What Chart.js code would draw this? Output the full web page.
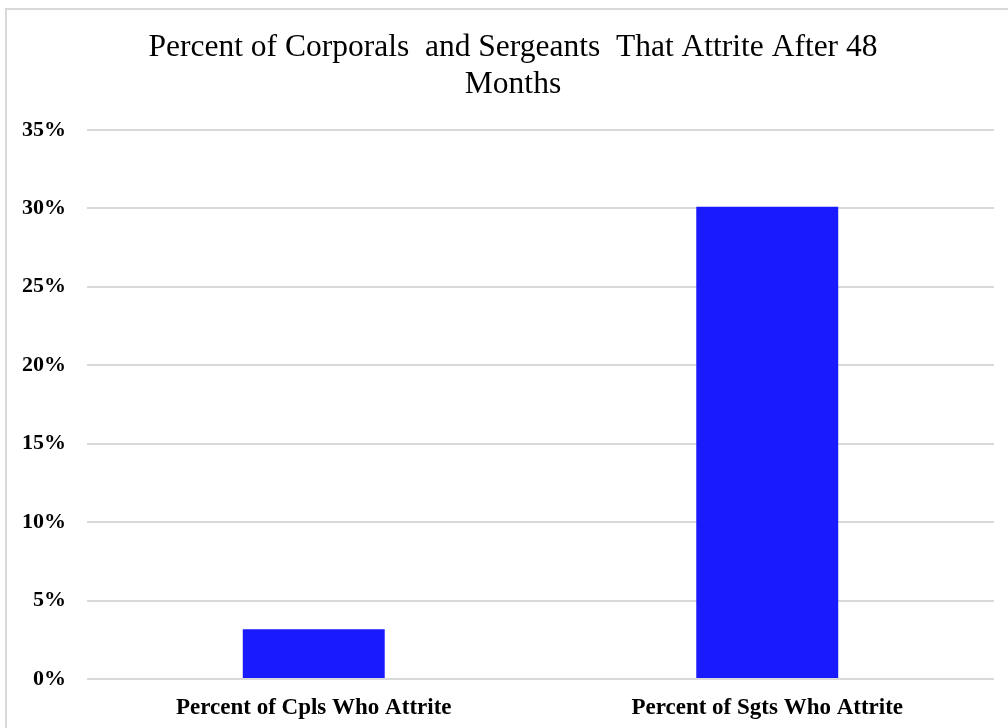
<!DOCTYPE html>
<html>
<head>
<meta charset="utf-8">
<script src="https://cdn.jsdelivr.net/npm/chart.js@4/dist/chart.umd.min.js"></script>
<style>
  html, body { margin: 0; padding: 0; background: #fff; overflow: hidden; }
  #frame {
    position: absolute; left: 5px; top: 8px;
    width: 1012px; height: 730px;
    border-left: 2px solid #d9d9d9; border-top: 2px solid #d9d9d9;
  }
  #wrap { position: absolute; left: 0; top: 0; width: 1012px; height: 730px; }
</style>
</head>
<body>
<div id="frame"><div id="wrap"><canvas id="chart"></canvas></div></div>
<script>
// Attrition after 48 months, by rank
const categories = ['Percent of Cpls Who Attrite', 'Percent of Sgts Who Attrite'];
const attritionPct = [3.17, 30.1];
const titleLines = ['Percent of Corporals  and Sergeants  That Attrite After 48', 'Months'];
const yMax = 35;
const yStep = 5;

const serif = '"Liberation Serif", "Times New Roman", serif';

// Let the title span the whole canvas width so it is centred on the frame,
// not on the padded layout area.
const fullWidthTitle = {
  id: 'fullWidthTitle',
  afterLayout(chart) {
    const t = chart.titleBlock;
    if (t) { t.left = 0; t.right = chart.width; t.width = chart.width; }
  }
};

new Chart(document.getElementById('chart'), {
  type: 'bar',
  data: {
    labels: categories,
    datasets: [{
      data: attritionPct,
      backgroundColor: '#1a1aff',
      borderWidth: 0,
      barPercentage: 1,
      categoryPercentage: 0.313
    }]
  },
  plugins: [fullWidthTitle],
  options: {
    responsive: true,
    maintainAspectRatio: false,
    animation: false,
    layout: { padding: { top: 18.5, right: 25, bottom: 10, left: 0 } },
    plugins: {
      legend: { display: false },
      tooltip: { enabled: false },
      title: {
        display: true,
        text: titleLines,
        color: '#000',
        font: { family: serif, size: 31.5, weight: 'normal', lineHeight: 1.2 },
        padding: { top: 0, bottom: 25.8 }
      }
    },
    scales: {
      x: {
        grid: { display: false, drawTicks: false },
        border: { display: false },
        ticks: {
          color: '#000',
          padding: 15,
          font: { family: serif, size: 23, weight: 'bold' }
        },
        afterFit: (s) => { s.height = 51; }
      },
      y: {
        min: 0,
        max: yMax,
        grid: { color: '#d9d9d9', lineWidth: 2, drawTicks: false },
        border: { display: false },
        ticks: {
          stepSize: yStep,
          color: '#000',
          padding: 21,
          font: { family: serif, size: 22, weight: 'bold' },
          callback: (v) => v + '%'
        },
        afterFit: (s) => { s.width = 80; }
      }
    }
  }
});
</script>
</body>
</html>
